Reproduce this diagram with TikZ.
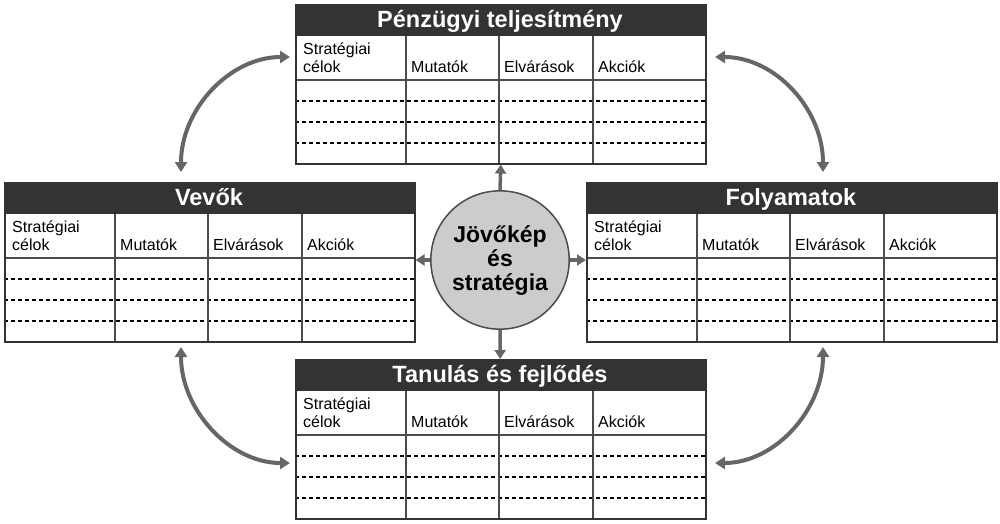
\documentclass[tikz,border=0pt]{standalone}
\usepackage{fontspec}
\setmainfont{Liberation Sans}
\usetikzlibrary{arrows.meta}

\definecolor{sotet}{HTML}{333333}
\definecolor{nyilszin}{HTML}{666666}
\definecolor{korszin}{HTML}{CCCCCC}

\begin{document}
\begin{tikzpicture}[
    x=1pt, y=-1pt,
    tabla/.style={rectangle, draw=sotet, line width=1.6pt, minimum width=410pt, minimum height=159pt, anchor=north west, inner sep=0pt},
    cim/.style={rectangle, fill=sotet, minimum width=410pt, minimum height=32pt, anchor=north west, inner sep=0pt},
    cimszoveg/.style={anchor=base, inner sep=0pt, text=white, font=\fontsize{23.5}{26}\selectfont\bfseries},
    fej/.style={anchor=base west, inner sep=0pt, font=\fontsize{16}{18}\selectfont},
    racs/.style={draw=black!70, line width=1.2pt},
    szaggatott/.style={draw=black, line width=1.3pt, dash pattern=on 4pt off 3pt},
    kozep/.style={circle, draw=black!70, line width=1.5pt, fill=korszin, minimum size=124pt, inner sep=0pt, align=center, font=\fontsize{23}{24}\selectfont\bfseries},
    arrow/.style={-{Triangle[width=11pt,length=9pt]}, line width=3.5pt, nyilszin},
    ketnyil/.style={{Triangle[width=12pt,length=10pt]}-{Triangle[width=12pt,length=10pt]}, line width=4pt, nyilszin}
]

\useasboundingbox (0,0) rectangle (1000,523);

% a negy nezopont tablazata
\foreach \nev/\x/\y/\cim in {penz/295/4/Pénzügyi teljesítmény, vevok/4/182/Vevők, folyamat/586/182/Folyamatok, tanulas/295/359/Tanulás és fejlődés} {
  \begin{scope}[shift={(\x,\y)}]
    \node[cim] (\nev-cim) at (0,0) {};
    \node[cimszoveg] at (205,23) {\cim};
    \draw[racs] (0,76) -- (410,76);
    \foreach \s in {97,118,139} \draw[szaggatott] (0,\s) -- (410,\s);
    \foreach \o in {111,204,298} \draw[racs] (\o,32) -- (\o,159);
    \node[fej] at (8,50) {Stratégiai};
    \node[fej] at (8,68) {célok};
    \node[fej] at (116,68) {Mutatók};
    \node[fej] at (209,68) {Elvárások};
    \node[fej] at (303,68) {Akciók};
    \node[tabla] (\nev) at (0,0) {};
  \end{scope}
}

\node[kozep] (jovo) at (500,260) {\raisebox{-4pt}{\parbox{120pt}{\centering Jövőkép\\és\\stratégia}}};

\draw[arrow] (jovo.north) -- (penz.south);
\draw[arrow] (jovo.south) -- (tanulas-cim.north);
\draw[arrow] (jovo.west) -- (jovo.west -| vevok.east);
\draw[arrow] (jovo.east) -- (jovo.east -| folyamat.west);

% ivelt nyilak a tablazatok kozott
\coordinate (bf1) at (181,172);
\coordinate (bf2) at (290,57);
\coordinate (ba1) at (181,347);
\coordinate (ba2) at (290,463);
\coordinate (jf1) at (715,57);
\coordinate (jf2) at (823,172);
\coordinate (ja1) at (823,347);
\coordinate (ja2) at (715,463);

\draw[ketnyil] (bf1) .. controls (181,109) and (230,57) .. (bf2);
\draw[ketnyil] (ba1) .. controls (181,410) and (230,463) .. (ba2);
\draw[ketnyil] (jf1) .. controls (775,57) and (823,109) .. (jf2);
\draw[ketnyil] (ja1) .. controls (823,410) and (775,463) .. (ja2);

\end{tikzpicture}
\end{document}
